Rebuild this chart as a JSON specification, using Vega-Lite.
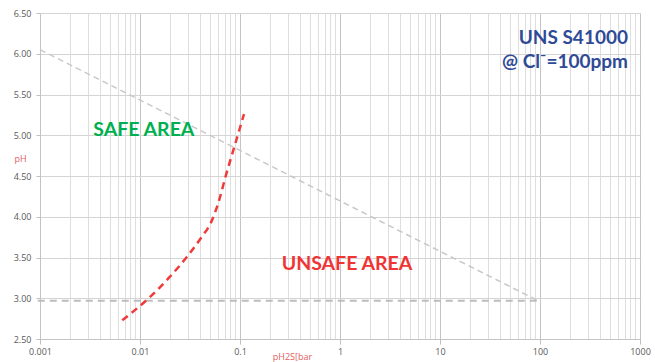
{
  "$schema": "https://vega.github.io/schema/vega-lite/v6.json",
  "width": 600,
  "height": 326,
  "autosize": "none",
  "padding": {"left": 40, "top": 13, "right": 15, "bottom": 23},
  "background": "white",
  "config": {"view": {"stroke": null}},
  "datasets": {
    "lines": [
      {"series": "diag", "pH2S": 0.001, "pH": 6.05},
      {"series": "diag", "pH2S": 92, "pH": 2.98},
      {"series": "flat", "pH2S": 0.00095, "pH": 2.97},
      {"series": "flat", "pH2S": 100, "pH": 2.97},
      {"series": "curve", "pH2S": 0.00665, "pH": 2.73},
      {"series": "curve", "pH2S": 0.0117, "pH": 2.98},
      {"series": "curve", "pH2S": 0.0191, "pH": 3.24},
      {"series": "curve", "pH2S": 0.0295, "pH": 3.51},
      {"series": "curve", "pH2S": 0.0407, "pH": 3.74},
      {"series": "curve", "pH2S": 0.0513, "pH": 3.93},
      {"series": "curve", "pH2S": 0.0603, "pH": 4.16},
      {"series": "curve", "pH2S": 0.0724, "pH": 4.51},
      {"series": "curve", "pH2S": 0.0955, "pH": 5.01},
      {"series": "curve", "pH2S": 0.1096, "pH": 5.26}
    ],
    "labels": [
      {"kind": "safe", "text": "SAFE AREA", "pH2S": 0.00341, "pH": 5.06},
      {"kind": "unsafe", "text": "UNSAFE AREA", "pH2S": 0.261, "pH": 3.42},
      {"kind": "title", "text": "UNS S41000", "pH2S": 758, "pH": 6.19},
      {"kind": "title", "text": "@ Cl⁻=100ppm", "pH2S": 758, "pH": 5.9}
    ]
  },
  "layer": [
    {
      "data": {"name": "lines"},
      "transform": [{"filter": "datum.series === 'diag'"}],
      "mark": {"type": "line", "color": "#c8c8c8", "strokeWidth": 1.5, "strokeDash": [6, 4]},
      "encoding": {
        "x": {
          "field": "pH2S", "type": "quantitative",
          "scale": {"type": "log", "domain": [0.001, 1000], "nice": false},
          "axis": {
            "title": "pH2S[bar",
            "titleColor": "#e06060", "titleFont": "Open Sans", "titleFontSize": 9, "titleFontWeight": "normal",
            "titleAnchor": null, "titleX": 252, "titleY": 17, "titleBaseline": "middle", "titleAlign": "center",
            "values": [0.001,0.002,0.003,0.004,0.005,0.006,0.007,0.008,0.009,
                       0.01,0.02,0.03,0.04,0.05,0.06,0.07,0.08,0.09,
                       0.1,0.2,0.3,0.4,0.5,0.6,0.7,0.8,0.9,
                       1,2,3,4,5,6,7,8,9,
                       10,20,30,40,50,60,70,80,90,
                       100,200,300,400,500,600,700,800,900,1000],
            "labelExpr": "abs(log(datum.value)/LN10 - round(log(datum.value)/LN10)) < 0.000001 ? format(datum.value, '~g') : ''",
            "labelFont": "Open Sans", "labelFontSize": 9, "labelColor": "#595959",
            "labelPadding": 3,
            "labelFlush": false, "labelOverlap": false,
            "grid": true,
            "gridColor": {"condition": {"test": "abs(log(datum.value)/LN10 - round(log(datum.value)/LN10)) < 0.000001", "value": "#c4c4c4"}, "value": "#dedede"},
            "gridWidth": 1,
            "tickColor": "#bfbfbf",
            "tickSize": 5,
            "tickOpacity": {"condition": {"test": "abs(log(datum.value)/LN10 - round(log(datum.value)/LN10)) < 0.000001", "value": 1}, "value": 0},
            "domainColor": "#c4c4c4"
          }
        },
        "y": {
          "field": "pH", "type": "quantitative",
          "scale": {"domain": [2.5, 6.5], "nice": false, "zero": false},
          "axis": {
            "title": "pH",
            "titleColor": "#e06060", "titleFont": "Open Sans", "titleFontSize": 9, "titleFontWeight": "normal",
            "titleAngle": 0, "titleAnchor": null, "titleX": -20, "titleY": 145, "titleAlign": "center", "titleBaseline": "middle",
            "values": [2.5, 3, 3.5, 4, 4.5, 5, 5.5, 6, 6.5],
            "format": ".2f",
            "labelFont": "Open Sans", "labelFontSize": 9, "labelColor": "#595959",
            "labelPadding": 5,
            "tickSize": 4, "tickColor": "#bfbfbf",
            "grid": true, "gridColor": "#d4d4d4",
            "domainColor": "#c4c4c4"
          }
        },
        "detail": {"field": "series"}
      }
    },
    {
      "data": {"name": "lines"},
      "transform": [{"filter": "datum.series === 'flat'"}],
      "mark": {"type": "line", "color": "#bdbdbd", "strokeWidth": 2, "strokeDash": [7, 5]},
      "encoding": {
        "x": {"field": "pH2S", "type": "quantitative"},
        "y": {"field": "pH", "type": "quantitative"}
      }
    },
    {
      "data": {"name": "lines"},
      "transform": [{"filter": "datum.series === 'curve'"}],
      "mark": {"type": "line", "color": "#f03a3a", "strokeWidth": 2.5, "strokeDash": [7, 5], "interpolate": "monotone"},
      "encoding": {
        "x": {"field": "pH2S", "type": "quantitative"},
        "y": {"field": "pH", "type": "quantitative"}
      }
    },
    {
      "data": {"name": "labels"},
      "transform": [{"filter": "datum.kind === 'safe'"}],
      "mark": {"type": "text", "align": "left", "baseline": "middle", "font": "Lato", "fontWeight": "bold", "fontSize": 19.5, "color": "#00b050"},
      "encoding": {
        "x": {"field": "pH2S", "type": "quantitative"},
        "y": {"field": "pH", "type": "quantitative"},
        "text": {"field": "text"}
      }
    },
    {
      "data": {"name": "labels"},
      "transform": [{"filter": "datum.kind === 'unsafe'"}],
      "mark": {"type": "text", "align": "left", "baseline": "middle", "font": "Lato", "fontWeight": "bold", "fontSize": 19.5, "color": "#f03434"},
      "encoding": {
        "x": {"field": "pH2S", "type": "quantitative"},
        "y": {"field": "pH", "type": "quantitative"},
        "text": {"field": "text"}
      }
    },
    {
      "data": {"name": "labels"},
      "transform": [{"filter": "datum.kind === 'title'"}],
      "mark": {"type": "text", "align": "right", "baseline": "middle", "font": "Lato", "fontWeight": "bold", "fontSize": 19, "color": "#2e4a96"},
      "encoding": {
        "x": {"field": "pH2S", "type": "quantitative"},
        "y": {"field": "pH", "type": "quantitative"},
        "text": {"field": "text"}
      }
    }
  ]
}
